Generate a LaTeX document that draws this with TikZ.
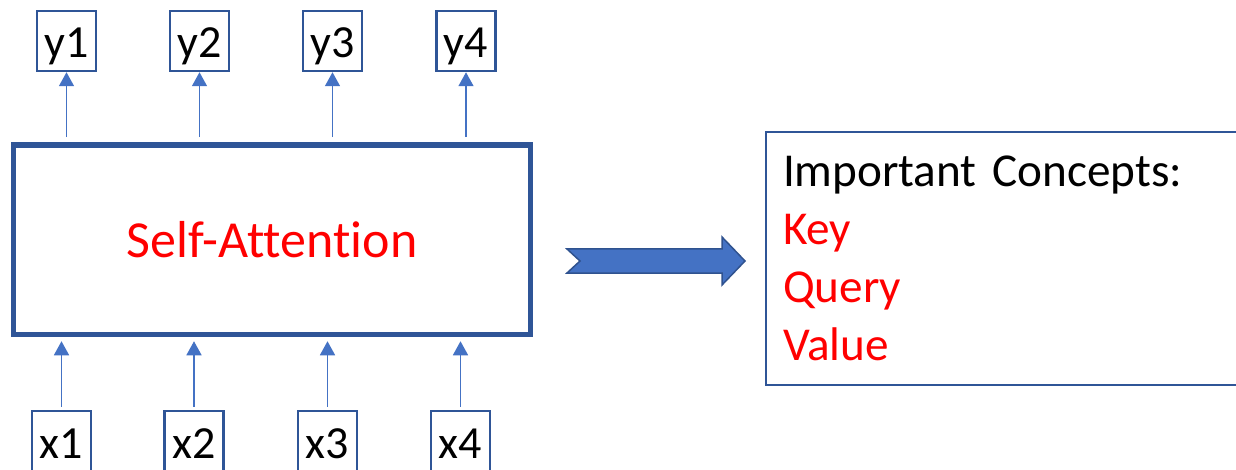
\documentclass[tikz,border=0pt]{standalone}
\usepackage{fontspec}
\setmainfont{Carlito}[Ligatures=NoCommon]
\usepackage{tikz}
\usepackage{xcolor}
\usetikzlibrary{arrows.meta}

\definecolor{boxblue}{HTML}{2F5597}
\definecolor{arrowblue}{HTML}{4472C4}
\definecolor{edgeblue}{HTML}{2F528F}

\begin{document}
\begin{tikzpicture}[x=0.5pt,y=-0.5pt,
  iobox/.style={draw=boxblue,line width=1.25pt,minimum width=29.5pt,minimum height=30pt,inner sep=0pt,
    font=\fontsize{23}{28}\selectfont,text height=17pt,text depth=0pt},
  flow/.style={draw=arrowblue,line width=0.8pt,-{Triangle[length=7pt,width=7.5pt]}}]
\useasboundingbox (0,0) rectangle (1236,470);
\clip (0,0) rectangle (1236,470);

\node[iobox] (y1) at (66.5,41) {y1};
\node[iobox] (y2) at (199.5,41) {y2};
\node[iobox] (y3) at (332.5,41) {y3};
\node[iobox] (y4) at (466,41) {y4};

\node[iobox] (x1) at (61.5,441) {x1};
\node[iobox] (x2) at (194,441) {x2};
\node[iobox] (x3) at (327.5,441) {x3};
\node[iobox] (x4) at (460.5,441) {x4};

\node[draw=boxblue,line width=2.75pt,minimum width=258.5pt,minimum height=94.75pt,
  text=red,font=\fontsize{26}{31}\selectfont] (attn) at (272,239.75) {Self-Attention};

\draw[flow,shorten <=2.5pt] (attn.north -| y1) -- (y1);
\draw[flow,shorten <=2.5pt] (attn.north -| y2) -- (y2);
\draw[flow,shorten <=2.5pt] (attn.north -| y3) -- (y3);
\draw[flow,shorten <=2.5pt] (attn.north -| y4) -- (y4);

\draw[flow,shorten <=1.5pt,shorten >=2pt] (x1) -- (x1 |- attn.south);
\draw[flow,shorten <=1.5pt,shorten >=2pt] (x2) -- (x2 |- attn.south);
\draw[flow,shorten <=1.5pt,shorten >=2pt] (x3) -- (x3 |- attn.south);
\draw[flow,shorten <=1.5pt,shorten >=2pt] (x4) -- (x4 |- attn.south);

\node[draw=boxblue,line width=1pt,anchor=north west,outer sep=0pt,inner xsep=8.5pt,inner ysep=12pt,
  text width=260pt,align=left,font=\fontsize{23.6}{29}\selectfont] (cons) at (766,132)
  {Important Concepts:\\ \textcolor{red}{Key}\\ \textcolor{red}{Query}\\ \textcolor{red}{Value}};

% block arrow
\draw[fill=arrowblue,draw=edgeblue,line width=0.75pt] (567,249) -- (722,249) -- (722,237) -- (745,261)
  -- (722,285) -- (722,273) -- (567,273) -- (580,261) -- cycle;
\end{tikzpicture}
\end{document}
